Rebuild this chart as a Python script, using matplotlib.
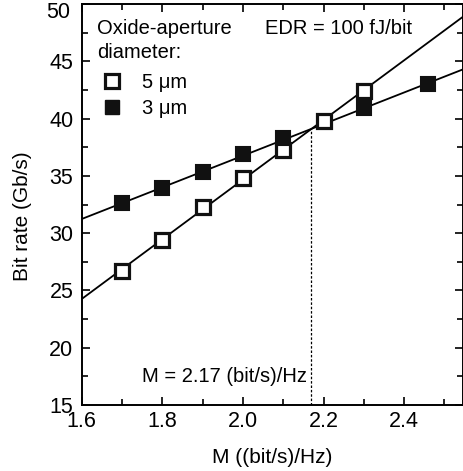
import matplotlib.pyplot as plt
import numpy as np
from matplotlib.ticker import MultipleLocator, FuncFormatter
from matplotlib.lines import Line2D

plt.rcParams['font.family'] = ['Liberation Sans', 'DejaVu Sans']

# data
m_5um = [1.7, 1.8, 1.9, 2.0, 2.1, 2.2, 2.3]
br_5um = [26.7, 29.4, 32.3, 34.8, 37.3, 39.8, 42.4]
m_3um = [1.7, 1.8, 1.9, 2.0, 2.1, 2.3, 2.46]
br_3um = [32.6, 33.9, 35.3, 36.9, 38.3, 40.9, 43.0]
m_cross = 2.17

fig = plt.figure(figsize=(4.63, 4.71), dpi=100)
ax = fig.add_axes([0.1765, 0.140, 0.8225, 0.8515])

# linear fits through each series
xs = np.linspace(1.6, 2.56, 50)
fit5 = np.polyfit(m_5um, br_5um, 1)
fit3 = np.polyfit(m_3um, br_3um, 1)
ax.plot(xs, np.polyval(fit5, xs), color='k', lw=1.3, zorder=2)
ax.plot(xs, np.polyval(fit3, xs), color='k', lw=1.3, zorder=2)

ax.plot(m_5um, br_5um, 's', ms=10.5, mfc='white', mec='#111111', mew=2.3, ls='none', zorder=3)
ax.plot(m_3um, br_3um, 's', ms=10.5, mfc='#111111', mec='#111111', mew=1.5, ls='none', zorder=3)

# crossing point of the two fits
x_int = (fit3[1] - fit5[1]) / (fit5[0] - fit3[0])
y_int = np.polyval(fit5, x_int)
ax.plot([m_cross, m_cross], [15, y_int], color='k', lw=0.9, ls=(0, (2, 1.5)), zorder=1)

ax.set_xlim(1.6, 2.545)
ax.set_ylim(15, 50)
ax.xaxis.set_major_locator(MultipleLocator(0.2))
ax.xaxis.set_minor_locator(MultipleLocator(0.1))
ax.yaxis.set_major_locator(MultipleLocator(5))
ax.yaxis.set_minor_locator(MultipleLocator(2.5))
ax.xaxis.set_major_formatter(FuncFormatter(lambda v, p: f"{v:.1f}"))
ax.yaxis.set_major_formatter(FuncFormatter(lambda v, p: "" if v > 49 else f"{v:.0f}"))
ax.tick_params(which='both', direction='in', top=True, right=True, width=1.2, labelsize=15.5)
ax.tick_params(axis='y', which='major', pad=6)
ax.tick_params(axis='x', which='major', pad=4)
ax.tick_params(which='major', length=6)
ax.tick_params(which='minor', length=4)
for s in ax.spines.values():
    s.set_linewidth(1.4)

# top y label sits a bit below its tick in the original
ax.annotate('50', xy=(0, 50), xycoords=('axes fraction', 'data'), xytext=(-8.5, -6),
            textcoords='offset points', ha='right', va='center', fontsize=15.5)

ax.set_xlabel('M ((bit/s)/Hz)', fontsize=15, labelpad=12)
ax.set_ylabel('Bit rate (Gb/s)', fontsize=15)
ax.yaxis.set_label_coords(-0.13, 0.47)

ax.text(1.638, 47.9, 'Oxide-aperture', fontsize=14.5, va='center', ha='left')
ax.text(1.638, 45.8, 'diameter:', fontsize=14.5, va='center', ha='left')
ax.text(2.055, 47.9, 'EDR = 100 fJ/bit', fontsize=14.5, va='center', ha='left')
ax.text(2.16, 17.45, 'M = 2.17 (bit/s)/Hz', fontsize=14.5, va='center', ha='right')

handles = [
    Line2D([], [], marker='s', ms=10, mfc='white', mec='#111111', mew=2.3, ls='none'),
    Line2D([], [], marker='s', ms=10, mfc='#111111', mec='#111111', ls='none'),
]
ax.legend(handles, ['5 μm', '3 μm'], loc='upper left', bbox_to_anchor=(0.045, 0.828),
          frameon=False, fontsize=14.5, handletextpad=0.85, labelspacing=0.35,
          borderaxespad=0.0, borderpad=0.0, handlelength=1.3)

fig.savefig('out.png', dpi=100)
